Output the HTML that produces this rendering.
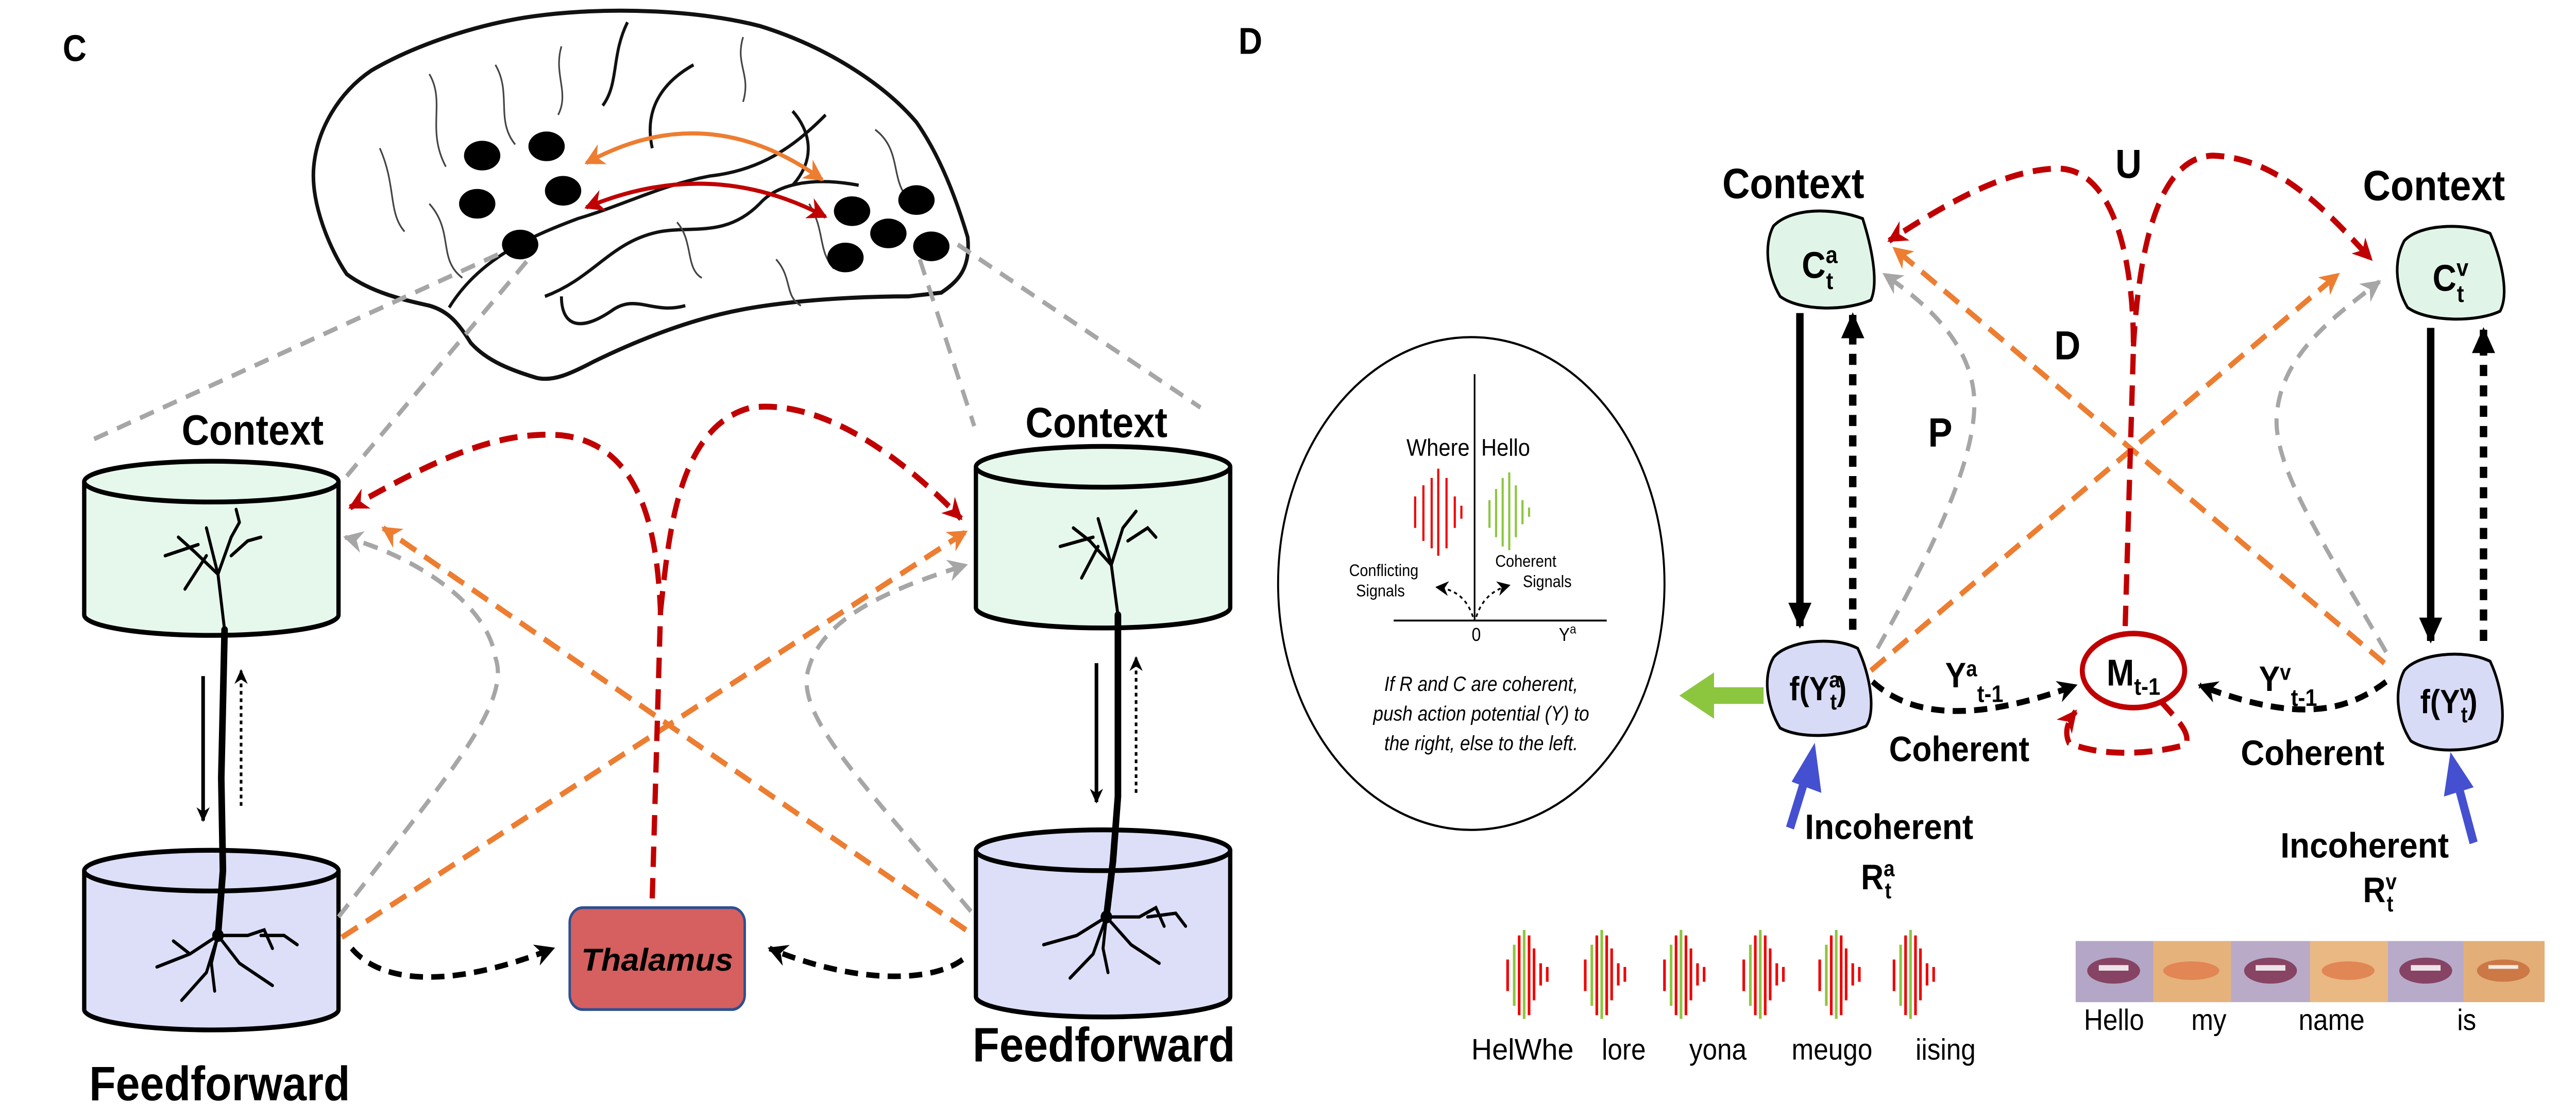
<!DOCTYPE html>
<html><head><meta charset="utf-8"><style>
html,body{margin:0;padding:0;background:#fff;width:100%;height:100%;overflow:hidden;}
svg{display:block;position:absolute;left:0;top:0;width:100vw;height:100vh;}
text{font-family:"Liberation Sans",sans-serif;}
.b{font-weight:bold;}
</style></head><body>
<svg viewBox="0 0 1560 603" preserveAspectRatio="none" xmlns="http://www.w3.org/2000/svg">
<defs>
<marker id="ar" viewBox="0 0 10 10" refX="9" refY="5" markerWidth="14" markerHeight="12" markerUnits="userSpaceOnUse" orient="auto-start-reverse"><path d="M0,0 L10,5 L0,10 L3,5 Z" fill="#c00000"/></marker>
<marker id="ao" viewBox="0 0 10 10" refX="9" refY="5" markerWidth="14" markerHeight="12" markerUnits="userSpaceOnUse" orient="auto-start-reverse"><path d="M0,0 L10,5 L0,10 L3,5 Z" fill="#ed7d31"/></marker>
<marker id="ag" viewBox="0 0 10 10" refX="9" refY="5" markerWidth="14" markerHeight="12" markerUnits="userSpaceOnUse" orient="auto-start-reverse"><path d="M0,0 L10,5 L0,10 L3,5 Z" fill="#a6a6a6"/></marker>
<marker id="ak" viewBox="0 0 10 10" refX="9" refY="5" markerWidth="13" markerHeight="12" markerUnits="userSpaceOnUse" orient="auto-start-reverse"><path d="M0,0 L10,5 L0,10 L3,5 Z" fill="#000"/></marker>
<marker id="as" viewBox="0 0 10 10" refX="9" refY="5" markerWidth="8" markerHeight="8" markerUnits="userSpaceOnUse" orient="auto"><path d="M0,0 L10,5 L0,10 L3,5 Z" fill="#000"/></marker>
<marker id="abig" viewBox="0 0 10 10" refX="9" refY="5" markerWidth="16" markerHeight="14" markerUnits="userSpaceOnUse" orient="auto"><path d="M0,0 L10,5 L0,10 Z" fill="#000"/></marker>
</defs>

<text x="38" y="33" class="b" font-size="20">C</text>

<path d="M210,148 C200,135 188,110 190,90 C192,70 205,50 225,38 C250,25 290,12 330,8 C370,4 420,5 460,14 C500,25 535,45 555,66 C570,85 580,110 586,128 C588,145 580,152 570,158 L550,160 C520,160 480,162 450,167 C420,172 390,182 360,195 C345,202 335,206 325,204 C310,200 295,195 285,185 C278,175 272,168 260,165 C245,162 225,158 210,148 Z" fill="#fff" stroke="#111" stroke-width="2.2" stroke-linejoin="round"/>
<g fill="none" stroke="#111" stroke-width="1.8">
<path d="M272,166 C290,140 320,128 350,118 C380,110 400,100 430,95 C460,92 480,80 500,62"/>
<path d="M330,160 C360,150 370,130 400,125 C420,122 440,128 460,110 C470,100 490,95 520,100"/>
<path d="M380,12 C370,30 375,45 365,57"/>
<path d="M420,35 C400,45 390,60 395,80"/>
<path d="M480,60 C490,70 495,85 480,100"/>
<path d="M340,160 C340,175 350,180 370,168 C385,158 395,170 415,165"/>
</g>
<g fill="none" stroke="#444" stroke-width="1">
<path d="M230,80 C240,100 235,115 245,125"/><path d="M260,40 C270,55 258,70 270,90"/>
<path d="M300,35 C310,50 300,65 312,78"/><path d="M340,25 C335,40 345,50 338,62"/>
<path d="M450,20 C445,35 455,40 450,55"/><path d="M530,70 C545,80 540,95 548,105"/>
<path d="M410,120 C420,130 415,145 425,150"/><path d="M470,140 C480,150 475,160 485,165"/>
<path d="M260,110 C275,125 265,140 280,150"/><path d="M490,110 C500,125 495,135 505,145"/>
</g>
<g fill="#000">
<ellipse cx="292" cy="84" rx="11" ry="8"/><ellipse cx="331" cy="79" rx="11" ry="8"/>
<ellipse cx="289" cy="110" rx="11" ry="8"/><ellipse cx="341" cy="103" rx="11" ry="8"/>
<ellipse cx="315" cy="132" rx="11" ry="8"/><ellipse cx="516" cy="114" rx="11" ry="8"/>
<ellipse cx="555" cy="108" rx="11" ry="8"/><ellipse cx="538" cy="126" rx="11" ry="8"/>
<ellipse cx="564" cy="133" rx="11" ry="8"/><ellipse cx="512" cy="139" rx="11" ry="8"/>
</g>
<path d="M355,88 Q428,52 498,97" fill="none" stroke="#ed7d31" stroke-width="2.2" marker-start="url(#ao)" marker-end="url(#ao)"/>
<path d="M355,112 Q430,84 500,117" fill="none" stroke="#c00000" stroke-width="2.2" marker-start="url(#ar)" marker-end="url(#ar)"/>

<g stroke="#a6a6a6" stroke-width="2.5" stroke-dasharray="9,6" fill="none">
<path d="M57,237 L305,136"/><path d="M210,257 L320,140"/>
<path d="M557,140 L590,230"/><path d="M580,132 L727,220"/>
</g>

<text x="110" y="240" class="b" font-size="23" textLength="86" lengthAdjust="spacingAndGlyphs">Context</text>
<text x="621" y="236" class="b" font-size="23" textLength="86" lengthAdjust="spacingAndGlyphs">Context</text>

<g stroke="#000" stroke-width="2.6">
<path d="M51,260 L51,332 A77,11 0 0 0 205,332 L205,260" fill="#e6f8ec"/>
<ellipse cx="128" cy="260" rx="77" ry="11" fill="#e6f8ec"/>
<path d="M51,470 L51,545 A77,11 0 0 0 205,545 L205,470" fill="#dcdff7"/>
<ellipse cx="128" cy="470" rx="77" ry="11" fill="#dcdff7"/>
<path d="M591,252 L591,328 A77,11 0 0 0 745,328 L745,252" fill="#e6f8ec"/>
<ellipse cx="668" cy="252" rx="77" ry="11" fill="#e6f8ec"/>
<path d="M591,459 L591,538 A77,11 0 0 0 745,538 L745,459" fill="#dcdff7"/>
<ellipse cx="668" cy="459" rx="77" ry="11" fill="#dcdff7"/>
</g>

<g fill="none" stroke="#000" stroke-linecap="round">
<path d="M136,340 L134,420 L135,470 L132,505" stroke-width="4"/>
<path d="M136,340 L132,310 L125,285 M132,310 L140,290 L145,282 M132,310 L118,298 L108,290 M140,300 L150,292 L158,290 M125,300 L112,318 M120,294 L100,300 M145,282 L143,275" stroke-width="1.8"/>
<path d="M132,505 L115,515 L95,522 M132,505 L145,520 L165,532 M132,505 L125,525 L110,540 M132,505 L150,505 L160,502 L165,512 M158,505 L172,505 L180,510 M132,505 L128,520 L130,535 M115,515 L105,508" stroke-width="1.8"/>
<path d="M677,332 L677,430 L674,465 L670,495" stroke-width="4"/>
<path d="M677,332 L673,305 L665,280 M673,305 L680,285 L688,276 M673,305 L660,292 L650,285 M683,292 L695,285 L700,290 M665,295 L655,312 M662,290 L642,295" stroke-width="1.8"/>
<path d="M670,495 L652,505 L632,510 M670,495 L685,510 L702,520 M670,495 L662,515 L648,528 M670,495 L690,495 L700,490 L705,500 M695,495 L712,493 L718,500 M670,495 L668,512 L671,525" stroke-width="1.8"/>
</g>
<circle cx="132" cy="505" r="3.5" fill="#000"/><circle cx="670" cy="495" r="3.5" fill="#000"/>

<line x1="123" y1="365" x2="123" y2="443" stroke="#000" stroke-width="2.2" marker-end="url(#as)"/>
<line x1="146" y1="435" x2="146" y2="362" stroke="#000" stroke-width="1.6" stroke-dasharray="2,2" marker-end="url(#as)"/>
<line x1="664" y1="358" x2="664" y2="433" stroke="#000" stroke-width="2.2" marker-end="url(#as)"/>
<line x1="688" y1="428" x2="688" y2="355" stroke="#000" stroke-width="1.6" stroke-dasharray="2,2" marker-end="url(#as)"/>

<g stroke="#ed7d31" stroke-width="3" stroke-dasharray="11,6" fill="none">
<path d="M207,506 L585,287" marker-end="url(#ao)"/>
<path d="M585,502 L232,285" marker-end="url(#ao)"/>
</g>
<g stroke="#a6a6a6" stroke-width="2.5" stroke-dasharray="9,6" fill="none">
<path d="M205,495 C270,420 310,380 300,355 C295,325 250,300 209,290" marker-end="url(#ag)"/>
<path d="M588,492 C520,420 480,385 490,360 C500,330 550,315 585,305" marker-end="url(#ag)"/>
</g>
<g stroke="#c00000" stroke-width="3.2" stroke-dasharray="11,6" fill="none">
<path d="M395,485 L400,330 C398,290 390,240 340,235 C300,232 260,250 212,274" marker-end="url(#ar)"/>
<path d="M400,330 C405,290 410,230 455,220 C500,215 550,250 582,280" marker-end="url(#ar)"/>
</g>
<rect x="345" y="490" width="106" height="55" rx="8" fill="#d65f5f" stroke="#2f4f8f" stroke-width="1.5"/>
<text x="398" y="524" class="b" font-size="17" font-style="italic" text-anchor="middle" textLength="92" lengthAdjust="spacingAndGlyphs">Thalamus</text>
<g stroke="#000" stroke-width="3" stroke-dasharray="8,5" fill="none">
<path d="M213,512 C230,530 270,535 335,512" marker-end="url(#ak)"/>
<path d="M583,518 C565,530 520,532 466,512" marker-end="url(#ak)"/>
</g>

<text x="54" y="594" class="b" font-size="26" textLength="158" lengthAdjust="spacingAndGlyphs">Feedforward</text>
<text x="589" y="573" class="b" font-size="26" textLength="159" lengthAdjust="spacingAndGlyphs">Feedforward</text>

<text x="750" y="29" class="b" font-size="20">D</text>

<ellipse cx="891" cy="315" rx="117" ry="133" fill="#fff" stroke="#000" stroke-width="1.2"/>
<line x1="893" y1="202" x2="893" y2="335" stroke="#000" stroke-width="1"/>
<line x1="844" y1="335" x2="973" y2="335" stroke="#000" stroke-width="1"/>
<text x="890" y="246" font-size="13" text-anchor="end">Where</text>
<text x="897" y="246" font-size="13">Hello</text>
<g stroke="#e00" stroke-width="1.3">
<line x1="857" y1="268" x2="857" y2="285"/><line x1="862" y1="262" x2="862" y2="292"/><line x1="867" y1="258" x2="867" y2="296"/>
<line x1="871" y1="253" x2="871" y2="300"/><line x1="876" y1="258" x2="876" y2="296"/><line x1="881" y1="268" x2="881" y2="285"/><line x1="885" y1="273" x2="885" y2="280"/>
</g>
<g stroke="#8cc63f" stroke-width="1.3">
<line x1="902" y1="270" x2="902" y2="285"/><line x1="906" y1="264" x2="906" y2="290"/><line x1="910" y1="258" x2="910" y2="295"/>
<line x1="914" y1="255" x2="914" y2="297"/><line x1="918" y1="262" x2="918" y2="290"/><line x1="922" y1="270" x2="922" y2="283"/><line x1="926" y1="274" x2="926" y2="279"/>
</g>
<text x="838" y="311" font-size="9" text-anchor="middle">Conflicting</text>
<text x="836" y="322" font-size="9" text-anchor="middle">Signals</text>
<text x="924" y="306" font-size="9" text-anchor="middle">Coherent</text>
<text x="937" y="317" font-size="9" text-anchor="middle">Signals</text>
<path d="M892,333 C888,322 880,318 870,317" fill="none" stroke="#000" stroke-width="1" stroke-dasharray="2,2" marker-end="url(#as)"/>
<path d="M894,333 C898,322 906,318 914,316" fill="none" stroke="#000" stroke-width="1" stroke-dasharray="2,2" marker-end="url(#as)"/>
<text x="894" y="346" font-size="10" text-anchor="middle">0</text>
<text x="944" y="346" font-size="10">Y<tspan font-size="7" dy="-4">a</tspan></text>
<g font-size="11" font-style="italic" text-anchor="middle">
<text x="897" y="373">If R and C are coherent,</text>
<text x="897" y="389">push action potential (Y) to</text>
<text x="897" y="405">the right, else to the left.</text>
</g>

<text x="1043" y="107" class="b" font-size="23" textLength="86" lengthAdjust="spacingAndGlyphs">Context</text>
<text x="1431" y="108" class="b" font-size="23" textLength="86" lengthAdjust="spacingAndGlyphs">Context</text>

<line x1="1090" y1="169" x2="1090" y2="338" stroke="#000" stroke-width="4.5" marker-end="url(#abig)"/>
<line x1="1122" y1="340" x2="1122" y2="170" stroke="#000" stroke-width="4.5" stroke-dasharray="6,5" marker-end="url(#abig)"/>
<line x1="1472" y1="177" x2="1472" y2="346" stroke="#000" stroke-width="4.5" marker-end="url(#abig)"/>
<line x1="1504" y1="346" x2="1504" y2="178" stroke="#000" stroke-width="4.5" stroke-dasharray="6,5" marker-end="url(#abig)"/>

<g stroke="#ed7d31" stroke-width="3" stroke-dasharray="11,6" fill="none">
<path d="M1133,362 L1416,148" marker-end="url(#ao)"/>
<path d="M1444,358 L1147,134" marker-end="url(#ao)"/>
</g>
<g stroke="#a6a6a6" stroke-width="2.5" stroke-dasharray="9,6" fill="none">
<path d="M1137,350 C1175,290 1200,240 1195,210 C1190,180 1160,160 1141,148" marker-end="url(#ag)"/>
<path d="M1445,352 C1405,290 1375,250 1379,222 C1383,190 1415,170 1441,152" marker-end="url(#ag)"/>
</g>
<g stroke="#c00000" stroke-width="3.2" stroke-dasharray="11,6" fill="none">
<path d="M1287,338 L1292,187 C1292,140 1280,90 1245,91 C1210,92 1170,115 1144,130" marker-end="url(#ar)"/>
<path d="M1292,187 C1295,140 1305,85 1340,84 C1380,85 1410,115 1436,140" marker-end="url(#ar)"/>
<path d="M1308,378 C1320,390 1326,395 1324,402 C1300,408 1270,408 1253,401 C1250,395 1252,390 1257,384" marker-end="url(#ar)"/>
</g>
<ellipse cx="1292" cy="362" rx="31" ry="20" fill="#fff" stroke="#c00000" stroke-width="3"/>
<text x="1292" y="370" class="b" font-size="20" text-anchor="middle">M<tspan font-size="13" dy="5">t-1</tspan></text>

<text x="1289" y="96" class="b" font-size="22" text-anchor="middle">U</text>
<text x="1252" y="194" class="b" font-size="22" text-anchor="middle">D</text>
<text x="1175" y="241" class="b" font-size="22" text-anchor="middle">P</text>

<path d="M1074,122 C1085,112 1110,112 1128,118 C1133,132 1138,152 1133,162 C1118,168 1090,168 1078,160 C1070,148 1068,132 1074,122 Z" fill="#e0f5e8" stroke="#000" stroke-width="1.6"/>
<text x="1102" y="150" class="b" font-size="20" text-anchor="middle">C<tspan font-size="13" dy="-8">a</tspan><tspan font-size="13" dx="-7" dy="14">t</tspan></text>
<path d="M1456,130 C1465,121 1492,120 1508,126 C1514,138 1520,158 1514,168 C1500,174 1470,174 1458,166 C1450,154 1450,140 1456,130 Z" fill="#e0f5e8" stroke="#000" stroke-width="1.6"/>
<text x="1484" y="157" class="b" font-size="20" text-anchor="middle">C<tspan font-size="13" dy="-8">v</tspan><tspan font-size="13" dx="-7" dy="14">t</tspan></text>
<path d="M1074,355 C1082,346 1110,343 1125,350 C1133,365 1136,385 1130,392 C1115,398 1090,399 1078,393 C1069,380 1068,364 1074,355 Z" fill="#d8dbf5" stroke="#000" stroke-width="1.6"/>
<text x="1101" y="378" class="b" font-size="18" text-anchor="middle">f(Y<tspan font-size="12" dy="-7">a</tspan><tspan font-size="12" dx="-6" dy="12">t</tspan><tspan dy="-5">)</tspan></text>
<path d="M1456,362 C1464,353 1492,350 1508,357 C1516,372 1518,392 1512,400 C1497,406 1472,407 1460,400 C1451,388 1450,372 1456,362 Z" fill="#d8dbf5" stroke="#000" stroke-width="1.6"/>
<text x="1483" y="385" class="b" font-size="18" text-anchor="middle">f(Y<tspan font-size="12" dy="-7">v</tspan><tspan font-size="12" dx="-6" dy="12">t</tspan><tspan dy="-5">)</tspan></text>

<g stroke="#000" stroke-width="3.2" stroke-dasharray="8,5" fill="none">
<path d="M1134,368 C1155,385 1190,392 1257,370" marker-end="url(#ak)"/>
<path d="M1445,368 C1420,385 1390,390 1332,370" marker-end="url(#ak)"/>
</g>
<text x="1178" y="371" class="b" font-size="19">Y<tspan font-size="12" dy="-6">a</tspan><tspan font-size="13" dy="14">t-1</tspan></text>
<text x="1368" y="373" class="b" font-size="19">Y<tspan font-size="12" dy="-6">v</tspan><tspan font-size="13" dy="14">t-1</tspan></text>
<text x="1144" y="411" class="b" font-size="19" textLength="85" lengthAdjust="spacingAndGlyphs">Coherent</text>
<text x="1357" y="413" class="b" font-size="19" textLength="87" lengthAdjust="spacingAndGlyphs">Coherent</text>

<rect x="1035" y="371" width="33" height="9" fill="#8cc63f"/>
<path d="M1017,375.5 L1038,363 L1038,388 Z" fill="#8cc63f"/>
<line x1="1084" y1="447" x2="1094" y2="418" stroke="#4450d0" stroke-width="5"/>
<path d="M1099,401 L1085,422 L1103,428 Z" fill="#4450d0"/>
<line x1="1498" y1="455" x2="1489" y2="425" stroke="#4450d0" stroke-width="5"/>
<path d="M1484,406 L1480,430 L1498,425 Z" fill="#4450d0"/>

<text x="1093" y="453" class="b" font-size="19" textLength="102" lengthAdjust="spacingAndGlyphs">Incoherent</text>
<text x="1127" y="480" class="b" font-size="19">R<tspan font-size="12" dy="-7">a</tspan><tspan font-size="12" dx="-6" dy="12">t</tspan></text>
<text x="1381" y="463" class="b" font-size="19" textLength="102" lengthAdjust="spacingAndGlyphs">Incoherent</text>
<text x="1431" y="487" class="b" font-size="19">R<tspan font-size="12" dy="-7">v</tspan><tspan font-size="12" dx="-6" dy="12">t</tspan></text>

<g stroke-width="1.6">
<g id="wv">
<line x1="913" y1="518" x2="913" y2="535" stroke="#e00"/>
<line x1="917" y1="510" x2="917" y2="543" stroke="#8cc63f"/>
<line x1="920" y1="505" x2="920" y2="548" stroke="#e00"/>
<line x1="923" y1="502" x2="923" y2="550" stroke="#8cc63f"/>
<line x1="926" y1="505" x2="926" y2="548" stroke="#e00"/>
<line x1="929" y1="512" x2="929" y2="540" stroke="#e00"/>
<line x1="933" y1="520" x2="933" y2="532" stroke="#e00"/>
<line x1="937" y1="522" x2="937" y2="530" stroke="#e00"/>
</g>
<use href="#wv" x="47"/><use href="#wv" x="95"/><use href="#wv" x="143"/><use href="#wv" x="189"/><use href="#wv" x="234"/>
</g>
<g font-size="16">
<text x="891" y="572" textLength="62" lengthAdjust="spacingAndGlyphs">HelWhe</text>
<text x="970" y="572">lore</text>
<text x="1023" y="572">yona</text>
<text x="1085" y="572">meugo</text>
<text x="1160" y="572">iising</text>
</g>

<g>
<rect x="1257" y="508" width="47" height="33" fill="#b3a6c6"/>
<rect x="1304" y="508" width="47" height="33" fill="#e6b27c"/>
<rect x="1351" y="508" width="48" height="33" fill="#b9aac8"/>
<rect x="1399" y="508" width="47" height="33" fill="#eab882"/>
<rect x="1446" y="508" width="46" height="33" fill="#b8abca"/>
<rect x="1492" y="508" width="49" height="33" fill="#e3ae78"/>
<g fill="#7a2a4a" opacity="0.8">
<ellipse cx="1280" cy="524" rx="16" ry="7"/><ellipse cx="1327" cy="524" rx="17" ry="5" fill="#e07a4a"/>
<ellipse cx="1375" cy="524" rx="16" ry="7"/><ellipse cx="1422" cy="524" rx="16" ry="5" fill="#e07a4a"/>
<ellipse cx="1469" cy="524" rx="16" ry="7"/><ellipse cx="1516" cy="524" rx="16" ry="6" fill="#c66b3a"/>
</g>
<g fill="#fff" opacity="0.85">
<rect x="1271" y="521" width="18" height="3"/><rect x="1366" y="521" width="18" height="3"/><rect x="1460" y="521" width="18" height="3"/><rect x="1507" y="521" width="18" height="2"/>
</g>
</g>
<g font-size="16">
<text x="1262" y="556">Hello</text>
<text x="1327" y="556">my</text>
<text x="1392" y="556">name</text>
<text x="1488" y="556">is</text>
</g>
</svg>
</body></html>
